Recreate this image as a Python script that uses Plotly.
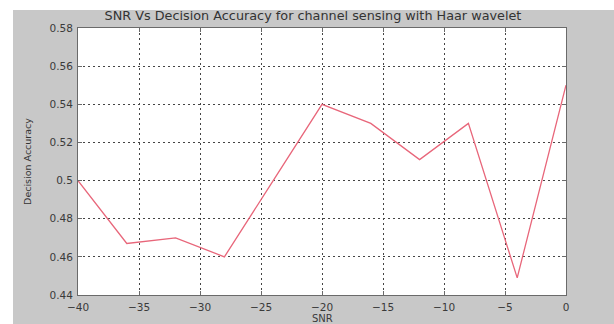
import plotly.graph_objects as go

snr = [-40, -36, -32, -28, -24, -20, -16, -12, -8, -4, 0]
accuracy = [0.50, 0.467, 0.470, 0.460, 0.500, 0.540, 0.530, 0.511, 0.530, 0.449, 0.550]
x_ticks = [-40, -35, -30, -25, -20, -15, -10, -5, 0]
y_ticks = [0.44, 0.46, 0.48, 0.50, 0.52, 0.54, 0.56, 0.58]
y_tick_labels = ["0.44", "0.46", "0.48", "0.5", "0.52", "0.54", "0.56", "0.58"]

W, H = 614, 324
L, R, T, B = 78, 48, 28, 29
PH = H - T - B

FAM = "DejaVu Sans, Arial, sans-serif"
fig = go.Figure()
fig.add_trace(go.Scatter(x=snr, y=accuracy, mode="lines",
                         line=dict(color="#e8667a", width=1.3),
                         hoverinfo="skip", showlegend=False))

font = dict(family=FAM, size=10.5, color="#3a3a3a")
axis_common = dict(showline=True, linecolor="#6a6a6a", linewidth=1, mirror="ticks",
                   ticks="inside", ticklen=4, tickcolor="#6a6a6a",
                   showgrid=True, gridcolor="#444444", gridwidth=1, griddash="2px,3px",
                   zeroline=False, tickfont=font, automargin=False)

fig.update_layout(
    width=W, height=H,
    margin=dict(l=L, r=R, t=T, b=B, pad=0, autoexpand=False),
    paper_bgcolor="#c8c8c8", plot_bgcolor="white",
    font=font,
    title=dict(text="SNR Vs Decision Accuracy for channel sensing with Haar wavelet",
               x=313 / W, xanchor="center", y=1 - 16 / H, yanchor="middle",
               font=dict(family=FAM, size=12.8, color="#333333")),
    xaxis=dict(range=[-40, 0], tickvals=x_ticks, ticklabelstandoff=2, **axis_common),
    yaxis=dict(range=[0.44, 0.58], tickvals=y_ticks, ticktext=y_tick_labels, ticklabelstandoff=2,
               title=dict(text="Decision Accuracy", standoff=16,
                          font=dict(family=FAM, size=9.5, color="#333333")),
               **axis_common),
    annotations=[
        dict(text="SNR", xref="paper", yref="paper", x=0.5, y=-(318 - (T + PH)) / PH,
             xanchor="center", yanchor="middle", showarrow=False,
             font=dict(family=FAM, size=10, color="#3a3a3a")),
    ],
    shapes=[
        dict(type="rect", xref="paper", yref="paper", layer="below",
             x0=-L / (W - L - R), x1=(-L + 13) / (W - L - R), y0=-1, y1=2,
             fillcolor="white", line=dict(width=0)),
        dict(type="rect", xref="paper", yref="paper", layer="below",
             x0=-1, x1=2, y0=1 + (T - 10) / PH, y1=3,
             fillcolor="white", line=dict(width=0)),
    ],
)

fig.write_html("out.html")
